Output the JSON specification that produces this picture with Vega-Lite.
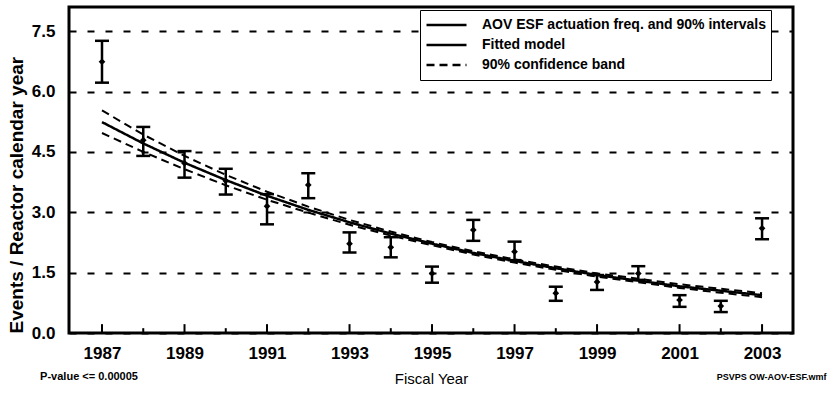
{
  "$schema": "https://vega.github.io/schema/vega-lite/v6.json",
  "width": 724,
  "height": 326,
  "autosize": "none",
  "padding": {"left": 69, "top": 7, "right": 41, "bottom": 62},
  "background": "white",
  "config": {
    "view": {"stroke": "black", "strokeWidth": 3},
    "font": "Liberation Sans",
    "axis": {"domain": false, "labelColor": "black", "titleColor": "black", "labelFont": "Liberation Sans", "titleFont": "Liberation Sans"},
    "legend": {"labelFont": "Liberation Sans", "labelColor": "black"}
  },
  "datasets": {
    "obs": [
      {"year": 1987, "freq": 6.74, "lo": 6.22, "hi": 7.26},
      {"year": 1988, "freq": 4.79, "lo": 4.40, "hi": 5.12},
      {"year": 1989, "freq": 4.22, "lo": 3.86, "hi": 4.52},
      {"year": 1990, "freq": 3.78, "lo": 3.44, "hi": 4.08},
      {"year": 1991, "freq": 3.15, "lo": 2.70, "hi": 3.45},
      {"year": 1992, "freq": 3.68, "lo": 3.35, "hi": 3.97},
      {"year": 1993, "freq": 2.22, "lo": 2.00, "hi": 2.50},
      {"year": 1994, "freq": 2.13, "lo": 1.88, "hi": 2.38},
      {"year": 1995, "freq": 1.48, "lo": 1.25, "hi": 1.65},
      {"year": 1996, "freq": 2.56, "lo": 2.29, "hi": 2.81},
      {"year": 1997, "freq": 2.02, "lo": 1.81, "hi": 2.27},
      {"year": 1998, "freq": 0.99, "lo": 0.80, "hi": 1.15},
      {"year": 1999, "freq": 1.27, "lo": 1.07, "hi": 1.44},
      {"year": 2000, "freq": 1.48, "lo": 1.32, "hi": 1.66},
      {"year": 2001, "freq": 0.82, "lo": 0.65, "hi": 0.94},
      {"year": 2002, "freq": 0.67, "lo": 0.52, "hi": 0.80},
      {"year": 2003, "freq": 2.60, "lo": 2.33, "hi": 2.85}
    ],
    "fit": [
      {"year": 1987, "fit": 5.24, "lower": 4.97, "upper": 5.53},
      {"year": 1988, "fit": 4.71, "lower": 4.50, "upper": 4.93},
      {"year": 1989, "fit": 4.23, "lower": 4.07, "upper": 4.40},
      {"year": 1990, "fit": 3.80, "lower": 3.67, "upper": 3.93},
      {"year": 1991, "fit": 3.41, "lower": 3.31, "upper": 3.51},
      {"year": 1992, "fit": 3.06, "lower": 2.99, "upper": 3.14},
      {"year": 1993, "fit": 2.75, "lower": 2.69, "upper": 2.81},
      {"year": 1994, "fit": 2.47, "lower": 2.42, "upper": 2.52},
      {"year": 1995, "fit": 2.22, "lower": 2.18, "upper": 2.26},
      {"year": 1996, "fit": 1.99, "lower": 1.95, "upper": 2.03},
      {"year": 1997, "fit": 1.79, "lower": 1.75, "upper": 1.83},
      {"year": 1998, "fit": 1.61, "lower": 1.57, "upper": 1.65},
      {"year": 1999, "fit": 1.44, "lower": 1.40, "upper": 1.48},
      {"year": 2000, "fit": 1.30, "lower": 1.26, "upper": 1.35},
      {"year": 2001, "fit": 1.16, "lower": 1.12, "upper": 1.21},
      {"year": 2002, "fit": 1.05, "lower": 1.00, "upper": 1.10},
      {"year": 2003, "fit": 0.94, "lower": 0.89, "upper": 0.99}
    ]
  },
  "layer": [
    {
      "data": {"name": "obs"},
      "mark": {"type": "rule", "color": "black", "strokeWidth": 2.5},
      "encoding": {
        "x": {
          "field": "year", "type": "quantitative", "title": "Fiscal Year",
          "scale": {"domain": [1986.2, 2003.75], "nice": false, "zero": false},
          "axis": {
            "values": [1987, 1989, 1991, 1993, 1995, 1997, 1999, 2001, 2003],
            "format": "d",
            "ticks": false,
            "labelPadding": 12, "labelFontSize": 17, "labelFontWeight": "bold",
            "labelFlush": false, "labelOverlap": false,
            "grid": false,
            "titleFontSize": 15, "titleFontWeight": "normal", "titlePadding": 10
          }
        },
        "y": {
          "field": "lo", "type": "quantitative", "title": "Events / Reactor calendar year",
          "scale": {"domain": [0, 8.1], "nice": false},
          "axis": {
            "values": [0, 1.5, 3, 4.5, 6, 7.5],
            "format": ".1f",
            "grid": true, "gridDash": [7, 11], "gridColor": "black", "gridWidth": 2, "gridOpacity": 1,
            "ticks": false, "labelPadding": 14, "labelFontSize": 17, "labelFontWeight": "bold",
            "titleFontSize": 19, "titleFontWeight": "bold", "titlePadding": 5, "titleAnchor": "start"
          }
        },
        "y2": {"field": "hi"},
        "strokeDash": {
          "datum": "AOV ESF actuation freq. and 90% intervals",
          "scale": {"domain": ["AOV ESF actuation freq. and 90% intervals", "Fitted model", "90% confidence band"], "range": [[1, 0], [1, 0], [8, 5]]},
          "legend": {
            "orient": "none", "legendX": 351, "legendY": 3, "title": null,
            "symbolType": "stroke", "symbolSize": 1600, "symbolStrokeColor": "black", "symbolStrokeWidth": 2.5,
            "clipHeight": 20, "rowPadding": 0,
            "labelFontSize": 14, "labelFontWeight": "bold", "labelOffset": 14, "labelLimit": 400,
            "padding": 5, "strokeColor": "black", "fillColor": "white"
          }
        }
      }
    },
    {
      "data": {"name": "obs"},
      "transform": [{"filter": "datum.year % 2 == 1"}],
      "mark": {"type": "rule", "color": "black", "strokeWidth": 2},
      "encoding": {
        "x": {"field": "year", "type": "quantitative", "title": "Fiscal Year"},
        "y": {"datum": 0, "type": "quantitative"},
        "y2": {"datum": 0.22}
      }
    },
    {
      "data": {"name": "obs"},
      "transform": [{"filter": "datum.year % 2 == 0"}],
      "mark": {"type": "rule", "color": "black", "strokeWidth": 2},
      "encoding": {
        "x": {"field": "year", "type": "quantitative", "title": "Fiscal Year"},
        "y": {"datum": 0, "type": "quantitative"},
        "y2": {"datum": 0.12}
      }
    },
    {
      "data": {"name": "obs"},
      "mark": {"type": "tick", "color": "black", "orient": "horizontal", "size": 14, "thickness": 2.5, "opacity": 1},
      "encoding": {
        "x": {"field": "year", "type": "quantitative", "title": "Fiscal Year"},
        "y": {"field": "lo", "type": "quantitative", "title": "Events / Reactor calendar year"}
      }
    },
    {
      "data": {"name": "obs"},
      "mark": {"type": "tick", "color": "black", "orient": "horizontal", "size": 14, "thickness": 2.5, "opacity": 1},
      "encoding": {
        "x": {"field": "year", "type": "quantitative", "title": "Fiscal Year"},
        "y": {"field": "hi", "type": "quantitative", "title": "Events / Reactor calendar year"}
      }
    },
    {
      "data": {"name": "obs"},
      "mark": {"type": "point", "shape": "diamond", "filled": true, "color": "black", "size": 45, "opacity": 1},
      "encoding": {
        "x": {"field": "year", "type": "quantitative", "title": "Fiscal Year"},
        "y": {"field": "freq", "type": "quantitative", "title": "Events / Reactor calendar year"}
      }
    },
    {
      "data": {"name": "fit"},
      "mark": {"type": "line", "color": "black", "strokeWidth": 2.5},
      "encoding": {
        "x": {"field": "year", "type": "quantitative", "title": "Fiscal Year"},
        "y": {"field": "fit", "type": "quantitative", "title": "Events / Reactor calendar year"},
        "strokeDash": {"datum": "Fitted model"}
      }
    },
    {
      "data": {"name": "fit"},
      "mark": {"type": "line", "color": "black", "strokeWidth": 2},
      "encoding": {
        "x": {"field": "year", "type": "quantitative", "title": "Fiscal Year"},
        "y": {"field": "upper", "type": "quantitative", "title": "Events / Reactor calendar year"},
        "strokeDash": {"datum": "90% confidence band"}
      }
    },
    {
      "data": {"name": "fit"},
      "mark": {"type": "line", "color": "black", "strokeWidth": 2},
      "encoding": {
        "x": {"field": "year", "type": "quantitative", "title": "Fiscal Year"},
        "y": {"field": "lower", "type": "quantitative", "title": "Events / Reactor calendar year"},
        "strokeDash": {"datum": "90% confidence band"}
      }
    },
    {
      "data": {"values": [{}]},
      "mark": {"type": "text", "text": "P-value <= 0.00005", "align": "left", "baseline": "middle", "fontSize": 11, "fontWeight": "bold", "color": "black", "font": "Liberation Sans"},
      "encoding": {
        "x": {"datum": 1985.5, "type": "quantitative"},
        "y": {"datum": -1.09, "type": "quantitative"}
      }
    },
    {
      "data": {"values": [{}]},
      "mark": {"type": "text", "text": "PSVPS OW-AOV-ESF.wmf", "align": "left", "baseline": "middle", "fontSize": 9, "fontWeight": "bold", "color": "black", "font": "Liberation Sans"},
      "encoding": {
        "x": {"datum": 2001.9, "type": "quantitative"},
        "y": {"datum": -1.09, "type": "quantitative"}
      }
    }
  ]
}
